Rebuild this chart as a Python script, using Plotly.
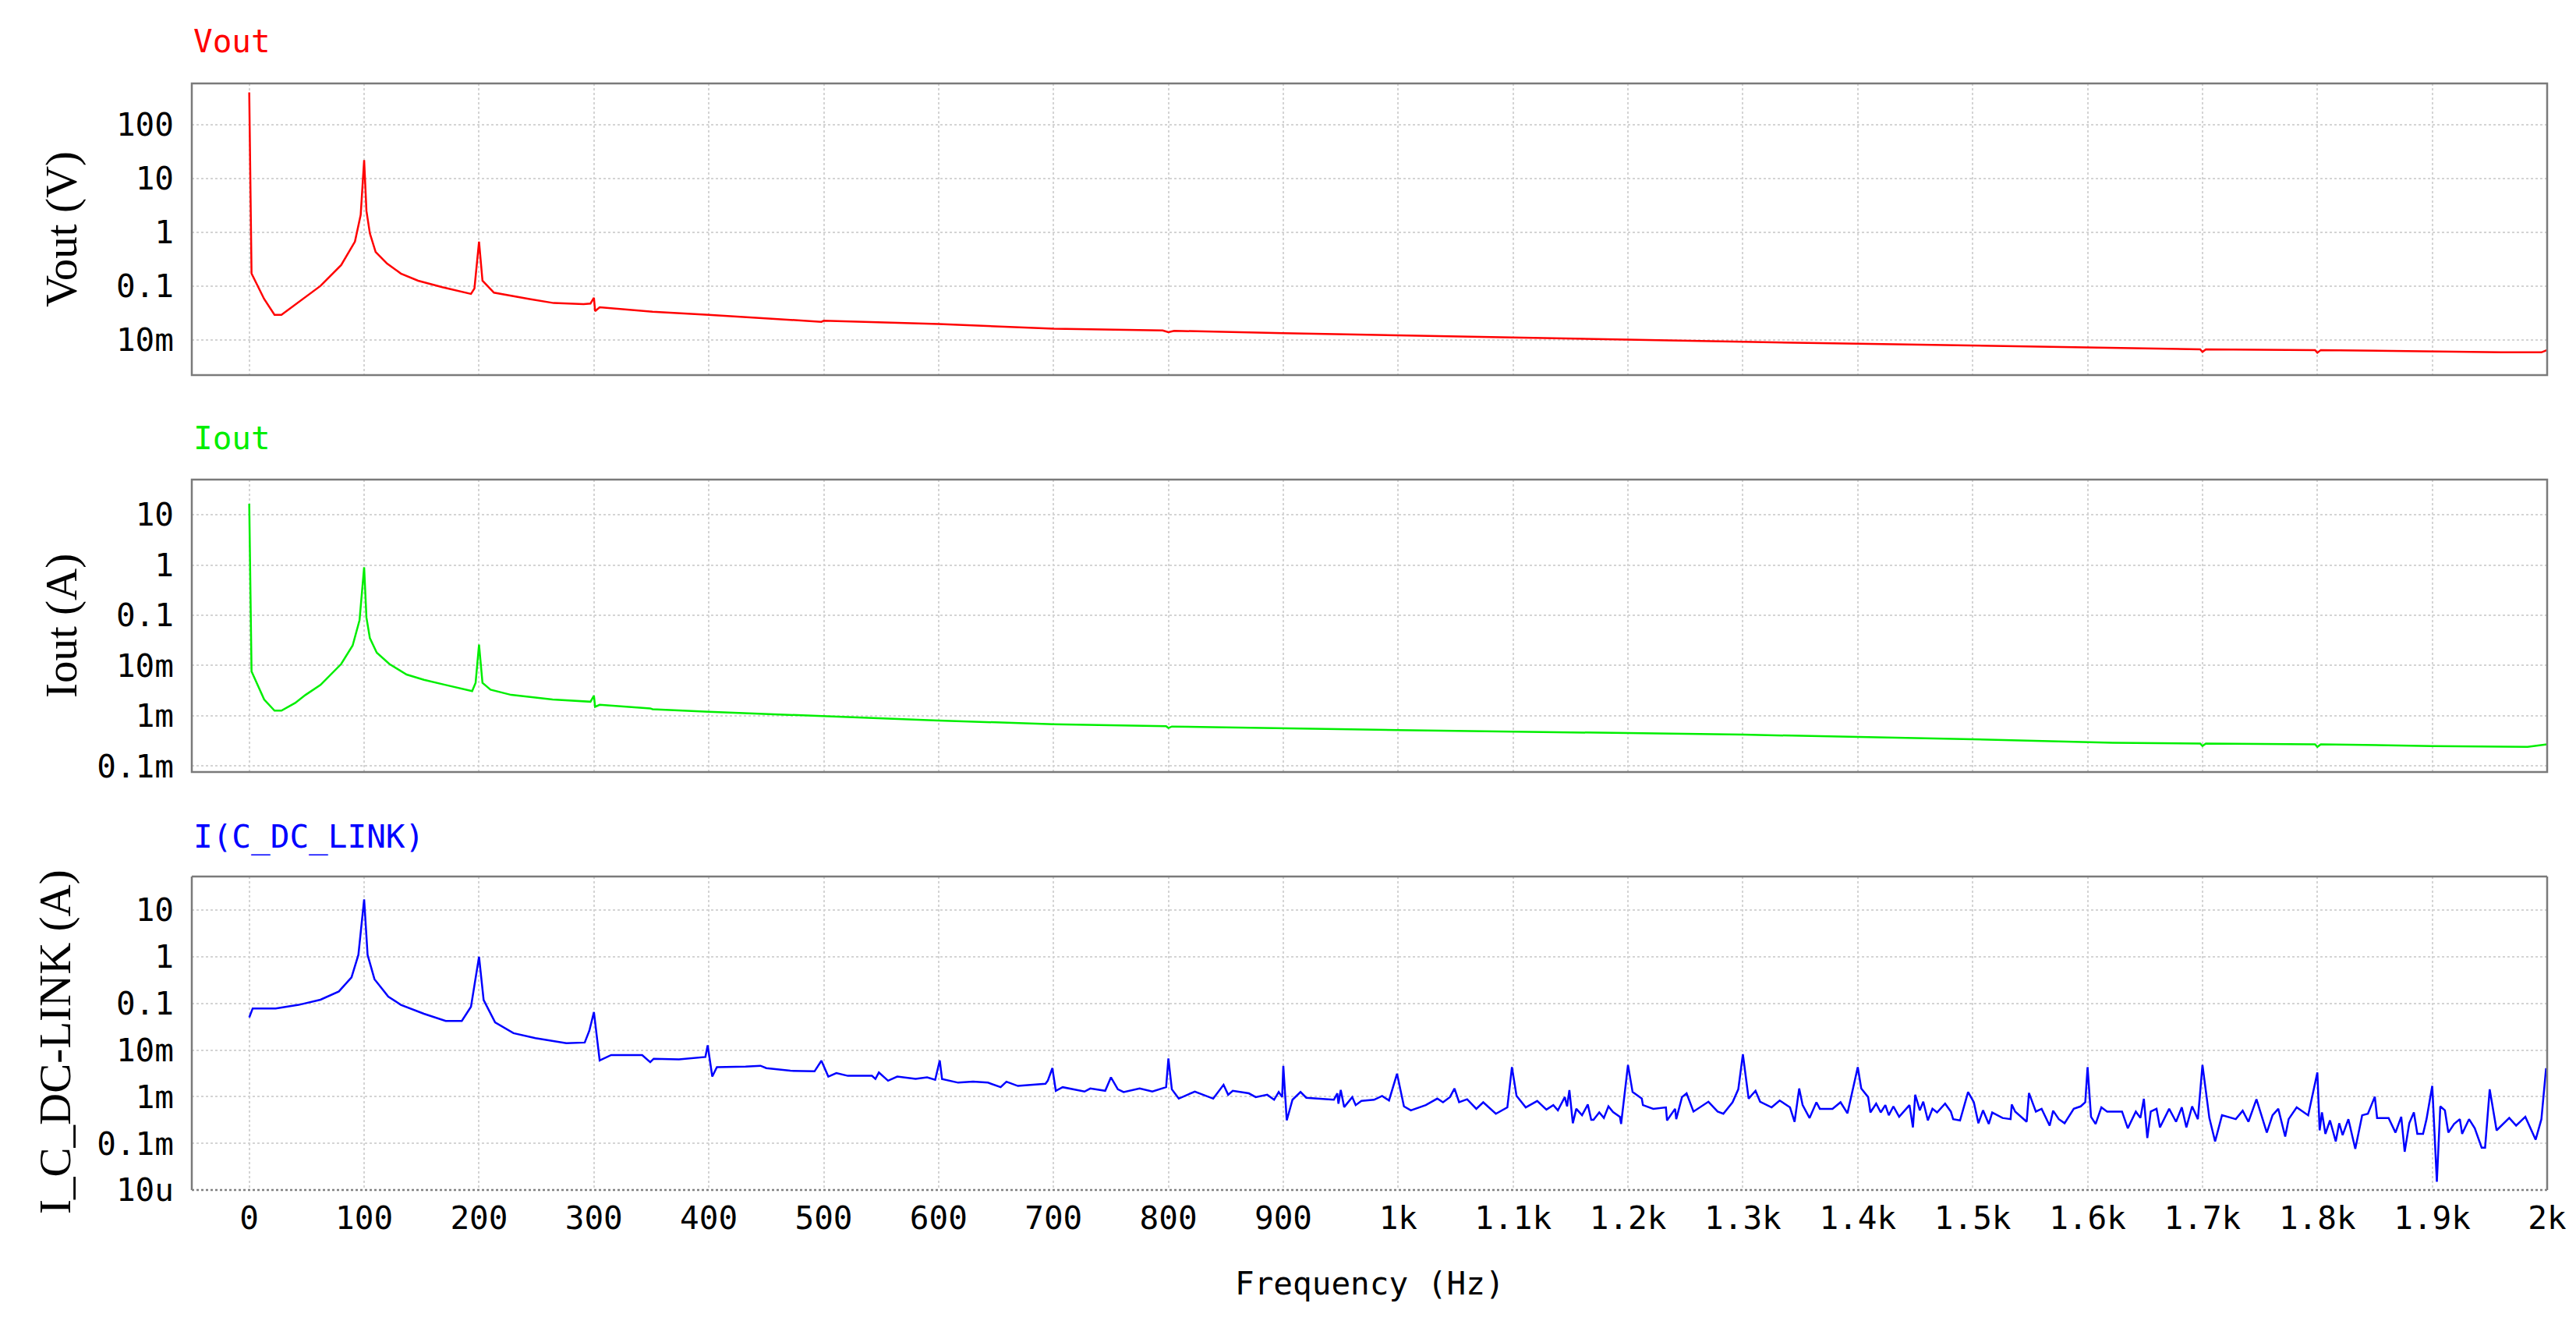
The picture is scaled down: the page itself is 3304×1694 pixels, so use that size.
import plotly.graph_objects as go

# ---------------- data ----------------
x_ticks = list(range(0, 2001, 100))
x_ticktext = ["0", "100", "200", "300", "400", "500", "600", "700", "800", "900",
              "1k", "1.1k", "1.2k", "1.3k", "1.4k", "1.5k", "1.6k", "1.7k", "1.8k", "1.9k", "2k"]

vout_ticks = [0.01, 0.1, 1, 10, 100]
vout_ticktext = ["10m", "0.1", "1", "10", "100"]
iout_ticks = [1e-4, 1e-3, 1e-2, 0.1, 1, 10]
iout_ticktext = ["0.1m", "1m", "10m", "0.1", "1", "10"]
icap_ticks = [1e-5, 1e-4, 1e-3, 1e-2, 0.1, 1, 10]
icap_ticktext = ["10u", "0.1m", "1m", "10m", "0.1", "1", "10"]

vout_f = [0, 1, 2, 13, 22, 28, 34, 50, 62, 80, 92, 97, 100, 102, 105, 110, 120, 132, 147, 168,
          193, 196, 200, 203, 213, 244, 265, 291, 297, 300, 301, 305, 349, 351, 400, 498, 500,
          600, 700, 795, 800, 805, 900, 1000, 1100, 1200, 1300, 1400, 1500, 1600, 1622, 1698,
          1700, 1703, 1798, 1800, 1803, 1900, 1960, 1995, 2000]
vout_v = [400, 8, 0.17, 0.057, 0.029, 0.029, 0.036, 0.063, 0.1, 0.245, 0.67, 2.1, 22, 2.5, 0.95,
          0.43, 0.26, 0.17, 0.125, 0.095, 0.071, 0.09, 0.67, 0.125, 0.075, 0.057, 0.048, 0.046,
          0.047, 0.06, 0.034, 0.04, 0.034, 0.033, 0.029, 0.0215, 0.0225, 0.0195, 0.016, 0.0148,
          0.0138, 0.0146, 0.0132, 0.012, 0.0108, 0.0099, 0.0091, 0.0084, 0.0077, 0.0071, 0.0069,
          0.0066, 0.0059, 0.0066, 0.0064, 0.0057, 0.0064, 0.006, 0.0058, 0.0058, 0.0064]

iout_f = [0, 1, 2, 13, 22, 28, 40, 49, 62, 80, 90, 96, 100, 102, 105, 111, 122, 137, 152, 171,
          194, 197, 200, 203, 210, 228, 264, 297, 300, 301, 305, 349, 351, 400, 500, 600, 700,
          798, 800, 803, 1000, 1300, 1500, 1622, 1698, 1700, 1703, 1798, 1800, 1803, 1900, 1983, 2000]
iout_v = [16.5, 0.3, 0.0076, 0.0021, 0.00126, 0.00126, 0.0018, 0.0026, 0.0041, 0.0107, 0.025,
          0.08, 0.9, 0.09, 0.035, 0.018, 0.0107, 0.0066, 0.0052, 0.0041, 0.0031, 0.0045, 0.026,
          0.0045, 0.0033, 0.0026, 0.0021, 0.0019, 0.0025, 0.0015, 0.00165, 0.0014, 0.00135,
          0.0012, 0.00098, 0.0008, 0.00068, 0.00062, 0.00057, 0.00061, 0.00052, 0.00042, 0.00034,
          0.00029, 0.00028, 0.00025, 0.00028, 0.00027, 0.00024, 0.00027, 0.00025, 0.00024, 0.00027]

icap_f = [0, 3, 23, 43, 62, 78, 89, 95, 100, 103, 109, 121, 132, 152, 171, 185, 193, 200, 204,
          214, 230, 249, 276, 292, 296, 300, 303, 305, 315, 342, 349, 352, 374, 397,
          399, 403, 407, 432, 445, 450, 471, 492, 498, 504, 511, 521, 542, 545, 548, 556, 564,
          580, 590, 597, 601, 603, 617, 630, 643, 654, 659, 669, 693, 695, 699, 702, 708, 727,
          732, 745, 750, 756, 761,
          775, 786, 798, 800, 803, 809, 823, 839, 848, 852, 856, 870, 876, 886, 892, 896, 899,
          900, 903, 908, 915, 920, 944, 947, 948, 950, 953, 960, 963, 968, 979, 986, 992, 999,
          1005, 1011, 1024, 1034, 1039, 1045, 1049, 1053, 1060, 1068, 1074, 1085, 1095, 1099,
          1103, 1111, 1121, 1129, 1135, 1139, 1145, 1147, 1149, 1152, 1155, 1160, 1165, 1168,
          1170, 1175, 1179, 1183, 1187, 1193, 1194, 1200, 1204, 1212, 1213, 1222, 1233, 1234,
          1241, 1242, 1247, 1251, 1257, 1270, 1278, 1283, 1291, 1296, 1300, 1305, 1311, 1315,
          1325, 1332, 1341, 1345, 1349, 1352, 1358, 1364, 1367, 1378, 1385, 1391, 1400, 1403,
          1409, 1411, 1416, 1420, 1424, 1427, 1431, 1436, 1445, 1448, 1450, 1454, 1457, 1461,
          1465, 1469, 1476, 1481, 1483, 1489, 1496, 1501, 1505, 1509, 1514, 1517, 1526, 1533,
          1534, 1537, 1547, 1549, 1555, 1560, 1567, 1570, 1575,
          1580, 1588, 1594, 1598, 1600, 1603, 1607, 1612, 1617, 1630, 1635, 1642, 1646, 1649,
          1652, 1655, 1660, 1663, 1671, 1677, 1682, 1686, 1691, 1696, 1700, 1706, 1711, 1717,
          1729, 1735, 1740, 1747, 1756, 1761, 1766, 1772, 1775, 1782, 1792, 1800, 1802, 1804,
          1807, 1811, 1816, 1819, 1822, 1827, 1833, 1839, 1844, 1850, 1852, 1862, 1868, 1873,
          1876, 1880, 1884, 1887, 1892, 1895, 1900, 1904, 1907, 1911, 1914, 1919, 1924, 1926,
          1932, 1937, 1943, 1946, 1950, 1956, 1967, 1973, 1981, 1990, 1995, 1999, 2000]
icap_v = [0.05, 0.078, 0.078, 0.093, 0.12, 0.18, 0.36, 1.1, 17, 1.1, 0.33, 0.14, 0.093, 0.06,
          0.042, 0.042, 0.085, 1.0, 0.118, 0.039, 0.023, 0.018, 0.014, 0.0145, 0.026, 0.065,
          0.0155, 0.006, 0.0078, 0.0078, 0.0055, 0.0065, 0.0063, 0.0071,
          0.0126, 0.0027, 0.0043, 0.0044, 0.0046, 0.0041, 0.0036, 0.0035, 0.0059, 0.0027,
          0.0032, 0.0028, 0.0028, 0.0024, 0.0033, 0.0022, 0.0027, 0.0024, 0.0026, 0.0023, 0.006,
          0.0024, 0.002, 0.0021, 0.002, 0.0016, 0.0021, 0.0017, 0.0019, 0.0022, 0.0041, 0.00134,
          0.0016, 0.00129, 0.0015, 0.00134, 0.0026, 0.00144, 0.00126,
          0.0015, 0.00129, 0.0016, 0.0066, 0.00144, 0.00091, 0.00129, 0.00091, 0.0018, 0.0011,
          0.00134, 0.00118, 0.00098, 0.0011, 0.00086, 0.00126, 0.00098,
          0.0046, 0.00031, 0.00086, 0.00126, 0.00095, 0.00086, 0.00118, 0.00071, 0.00139,
          0.0006, 0.00098, 0.00066, 0.00081, 0.00086, 0.00104, 0.00083, 0.0031,
          0.00062, 0.00051, 0.00066, 0.00091, 0.00076, 0.00098, 0.0015, 0.00076, 0.00088,
          0.00055, 0.00076, 0.00043, 0.00059, 0.0043,
          0.00104, 0.00059, 0.00081, 0.00053, 0.00066, 0.00051, 0.00098, 0.00062, 0.00139,
          0.00027, 0.00055, 0.0004, 0.00068, 0.00032,
          0.00032, 0.00046, 0.00035, 0.00062, 0.00047, 0.00037, 0.00026, 0.0048, 0.00126,
          0.00091, 0.00066, 0.00055, 0.00059, 0.00031,
          0.00055, 0.00033, 0.00098, 0.00118, 0.00048, 0.00078, 0.00048, 0.00043, 0.00076,
          0.00144, 0.0081, 0.00091, 0.00134, 0.00078,
          0.00059, 0.00083, 0.00059, 0.00029, 0.0015, 0.00066, 0.00035, 0.00076, 0.00055,
          0.00055, 0.00076, 0.00044, 0.0043, 0.0015,
          0.00098, 0.00046, 0.00071, 0.00046, 0.00066, 0.0004, 0.00062, 0.00037, 0.00066,
          0.00022, 0.0011, 0.00051, 0.00078, 0.00031,
          0.00055, 0.00046, 0.00071, 0.00048, 0.00033, 0.00031, 0.00126, 0.00076, 0.00027,
          0.00051, 0.00026, 0.00046, 0.00035, 0.00033,
          0.00068, 0.00048, 0.00029, 0.0012, 0.00048, 0.00055, 0.00024, 0.0005, 0.00033,
          0.00027, 0.00055, 0.00062, 0.00076, 0.0043, 0.00037, 0.00026, 0.00059, 0.00048,
          0.00048, 0.00021, 0.00048, 0.00035, 0.0009,
          0.00013, 0.00048, 0.00055, 0.00022, 0.00055, 0.00029, 0.00059, 0.00022, 0.00062,
          0.00033, 0.0048, 0.00035, 0.00011, 0.0004,
          0.00033, 0.0005, 0.00029, 0.00088, 0.00017, 0.0004, 0.00055, 0.00014, 0.00033,
          0.00059, 0.0004, 0.0033, 0.00019, 0.00046,
          0.00016, 0.00031, 0.00011, 0.00027, 0.00015, 0.00033, 0.000076, 0.0004, 0.00043,
          0.001, 0.00035, 0.00035, 0.00017, 0.00037,
          0.000066, 0.00027, 0.00046, 0.00016, 0.00016, 0.00033, 0.0017, 0.000015, 0.00062,
          0.00051, 0.00017, 0.00026, 0.00033, 0.00016,
          0.00033, 0.00021, 0.000081, 0.000081, 0.00144, 0.00019, 0.00035, 0.00024, 0.00037,
          0.00012, 0.00033, 0.0039, 0.0039]

# ---------------- figure ----------------
W, H = 3304, 1694
ML, MR, MT, MB = 238, 45, 99, 176
PH = H - MT - MB  # plot area height in px


def py(px_y):
    """convert a page y-pixel to paper fraction"""
    return (H - MB - px_y) / PH


def pxx(px_x):
    return (px_x - ML) / (W - ML - MR)


MONO = "DejaVu Sans Mono"
SERIF = "Liberation Serif"
MSIZE = 41

fig = go.Figure()
fig.add_trace(go.Scatter(x=vout_f, y=vout_v, mode="lines", line=dict(color="#ff0000", width=2.5),
                         xaxis="x3", yaxis="y3", showlegend=False))
fig.add_trace(go.Scatter(x=iout_f, y=iout_v, mode="lines", line=dict(color="#00ee00", width=2.5),
                         xaxis="x2", yaxis="y2", showlegend=False))
fig.add_trace(go.Scatter(x=icap_f, y=icap_v, mode="lines", line=dict(color="#0000ff", width=2.5),
                         xaxis="x", yaxis="y", showlegend=False))

grid = dict(showgrid=True, gridcolor="#d4d4d4", griddash="dot", gridwidth=1.5,
            zeroline=False, showline=False, ticks="")
xcommon = dict(range=[-50, 2000], tickmode="array", tickvals=x_ticks, ticktext=x_ticktext,
               tickfont=dict(family=MONO, size=MSIZE, color="black"), ticklabelstandoff=8, **grid)
ycommon = dict(type="log", tickmode="array", tickfont=dict(family=MONO, size=MSIZE, color="black"),
               ticklabelstandoff=22, **grid)

dom_bottom = [py(1518), py(1116)]
dom_middle = [py(982), py(607)]
dom_top = [py(473), py(99)]

fig.update_layout(
    width=W, height=H,
    margin=dict(l=ML, r=MR, t=MT, b=MB),
    paper_bgcolor="white", plot_bgcolor="white",
    xaxis=dict(anchor="y", showticklabels=True, **xcommon),
    xaxis2=dict(anchor="y2", showticklabels=False, matches="x", **xcommon),
    xaxis3=dict(anchor="y3", showticklabels=False, matches="x", **xcommon),
    yaxis=dict(domain=dom_bottom, range=[-5, 1.72], tickvals=icap_ticks, ticktext=icap_ticktext,
               anchor="x", **ycommon),
    yaxis2=dict(domain=dom_middle, range=[-4.12, 1.70], tickvals=iout_ticks, ticktext=iout_ticktext,
                anchor="x2", **ycommon),
    yaxis3=dict(domain=dom_top, range=[-2.66, 2.77], tickvals=vout_ticks, ticktext=vout_ticktext,
                anchor="x3", **ycommon),
)

# panel frames
frame_col = "#7a7a7a"
shapes = []
for xr, yr in (("x3", "y3"), ("x2", "y2")):
    shapes.append(dict(type="rect", xref=xr + " domain", yref=yr + " domain", x0=0, x1=1, y0=0, y1=1,
                       line=dict(color=frame_col, width=2.5), layer="above"))
for (x0, y0, x1, y1) in ((0, 0, 0, 1), (0, 1, 1, 1), (1, 0, 1, 1)):
    shapes.append(dict(type="line", xref="x domain", yref="y domain", x0=x0, x1=x1, y0=y0, y1=y1,
                       line=dict(color=frame_col, width=2.5), layer="above"))
shapes.append(dict(type="line", xref="x domain", yref="y domain", x0=0, x1=1, y0=0, y1=0,
                   line=dict(color="#808080", width=2.5, dash="dot"), layer="above"))
fig.update_layout(shapes=shapes)

# annotations: series names, axis titles
ann = [
    dict(text="Vout", x=0, y=py(45), font=dict(family=MONO, size=MSIZE, color="#ff0000")),
    dict(text="Iout", x=0, y=py(554), font=dict(family=MONO, size=MSIZE, color="#00ee00")),
    dict(text="I(C_DC_LINK)", x=0, y=py(1065), font=dict(family=MONO, size=MSIZE, color="#0000ff")),
]
for a in ann:
    a.update(xref="paper", yref="paper", xanchor="left", yanchor="middle", showarrow=False)
titles = [
    dict(text="Vout (V)", x=pxx(71), y=py(286)),
    dict(text="Iout (A)", x=pxx(71), y=py(795)),
    dict(text="I_C_DC-LINK (A)", x=pxx(63), y=py(1328)),
]
for a in titles:
    a.update(xref="paper", yref="paper", xanchor="center", yanchor="middle", showarrow=False,
             textangle=-90, font=dict(family=SERIF, size=57, color="black"))
xtitle = dict(text="Frequency (Hz)", x=0.5, y=py(1638), xref="paper", yref="paper",
              xanchor="center", yanchor="middle", showarrow=False,
              font=dict(family=MONO, size=MSIZE, color="black"))
fig.update_layout(annotations=ann + titles + [xtitle])

fig.write_html("out.html")
